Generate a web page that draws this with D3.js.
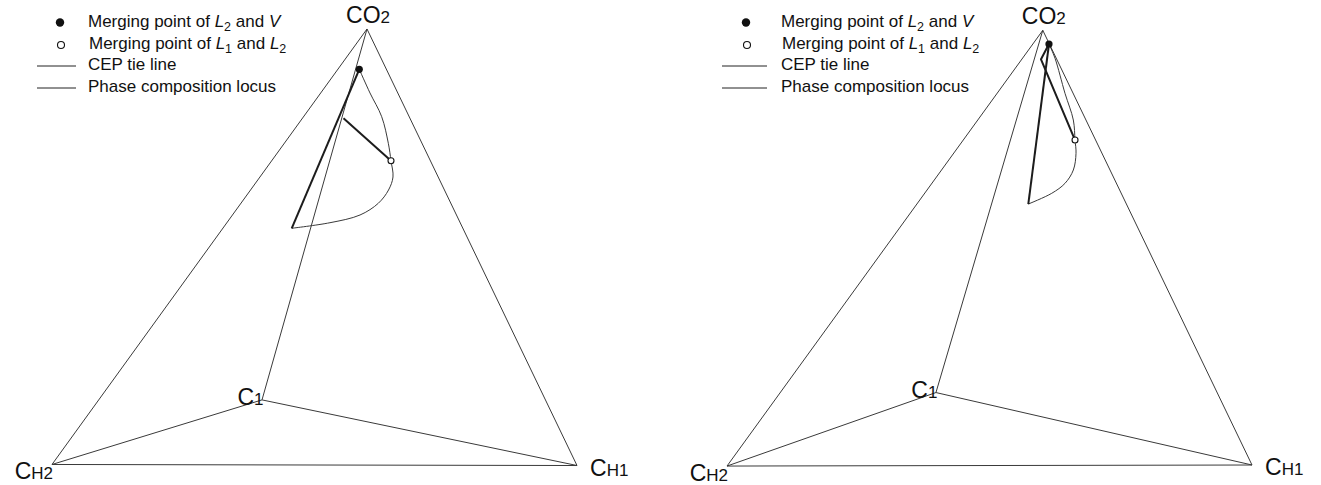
<!DOCTYPE html>
<html>
<head>
<meta charset="utf-8">
<script src="https://cdn.jsdelivr.net/npm/d3@7"></script>
<style>
  body { margin: 0; background: #fff; }
  svg { display: block; }
  text { font-family: "Liberation Sans", Arial, Helvetica, sans-serif; fill: #111; }
</style>
</head>
<body>
<svg id="chart" width="1321" height="485"></svg>
<script>
// Projected quaternary diagrams (CO2 / C1 / CH1 / CH2), diagram units 0–100.

// Vertex labels: large leading part, smaller trailing part
const vertexBig   = ["CO", "C", "C", "C"];
const vertexSmall = ["2", "1", "H2", "H1"];

// Vertex positions per panel (u, v)
const vertexU_left  = [60.0, 40.0, 0, 100];
const vertexV_left  = [83.05, 12.4, 0.1, -0.1];
const vertexU_right = [60.15, 39.8, 0, 100];
const vertexV_right = [82.8, 13.8, -0.2, 0];

// Tetrahedron edges as vertex index pairs
const edges = [[0, 1], [0, 2], [0, 3], [1, 2], [1, 3], [2, 3]];

// Phase composition locus (thin branch) per panel
const locusU_left  = [58.53, 60.57, 62.80, 64.06, 64.57, 64.95, 64.10, 62.15, 58.67, 52.95, 45.66];
const locusV_left  = [75.37, 70.86, 66.34, 61.28, 57.96, 54.86, 52.38, 49.85, 47.62, 46.15, 45.09];
const locusU_right = [61.33, 62.48, 64.38, 65.97, 66.29, 66.48, 65.97, 64.38, 61.85, 57.39];
const locusV_right = [80.19, 77.47, 70.80, 65.71, 61.90, 59.37, 56.19, 53.65, 51.75, 49.71];

// Phase composition locus (heavy branch)
const branchU_left  = [58.53, 45.66];
const branchV_left  = [75.37, 45.09];
const branchU_right = [61.33, 57.39];
const branchV_right = [80.19, 49.71];

// CEP tie lines
const tieU_left  = [55.52, 64.57];
const tieV_left  = [66.04, 57.96];
const tieU_right = [61.33, 59.81, 66.29];
const tieV_right = [80.19, 77.28, 61.90];

// Merging points: [L2 & V (filled), L1 & L2 (open)]
const mergeU_left  = [58.53, 64.57];
const mergeV_left  = [75.37, 57.96];
const mergeU_right = [61.33, 66.29];
const mergeV_right = [80.19, 61.90];

const panelOrigins = [52, 727];

// Legend column anchors per panel: symbol centre, line start, line end, text start
const legendSymbolX = [60, 746];
const legendLineX0  = [37, 722];
const legendLineX1  = [76, 767];
const legendTextX   = [88, 781];

const svg = d3.select("#chart");

const panelData = [
  { vu: vertexU_left, vv: vertexV_left, lu: locusU_left, lv: locusV_left,
    bu: branchU_left, bv: branchV_left, tu: tieU_left, tv: tieV_left,
    mu: mergeU_left, mv: mergeV_left },
  { vu: vertexU_right, vv: vertexV_right, lu: locusU_right, lv: locusV_right,
    bu: branchU_right, bv: branchV_right, tu: tieU_right, tv: tieV_right,
    mu: mergeU_right, mv: mergeV_right }
];

const zip = (us, vs) => us.map((u, i) => [u, vs[i]]);

panelData.forEach((p, pi) => {
  const x0 = panelOrigins[pi];
  const x = d3.scaleLinear().domain([0, 100]).range([x0, x0 + 525]);
  const y = d3.scaleLinear().domain([0, 100]).range([465, 465 - 525]);
  const g = svg.append("g");

  const verts = zip(p.vu, p.vv);

  // edges
  g.selectAll("line.edge").data(edges).join("line")
    .attr("class", "edge")
    .attr("x1", d => x(verts[d[0]][0])).attr("y1", d => y(verts[d[0]][1]))
    .attr("x2", d => x(verts[d[1]][0])).attr("y2", d => y(verts[d[1]][1]))
    .attr("stroke", "#3a3a3a").attr("stroke-width", 1);

  const line = d3.line().x(d => x(d[0])).y(d => y(d[1]));
  const smooth = d3.line().x(d => x(d[0])).y(d => y(d[1])).curve(d3.curveCatmullRom.alpha(0.5));

  g.append("path").datum(zip(p.lu, p.lv)).attr("d", smooth)
    .attr("fill", "none").attr("stroke", "#3a3a3a").attr("stroke-width", 1);
  g.append("path").datum(zip(p.bu, p.bv)).attr("d", line)
    .attr("fill", "none").attr("stroke", "#1c1c1c").attr("stroke-width", 2);
  g.append("path").datum(zip(p.tu, p.tv)).attr("d", line)
    .attr("fill", "none").attr("stroke", "#1c1c1c").attr("stroke-width", 2)
    .attr("stroke-linejoin", "round");

  const merges = zip(p.mu, p.mv);
  g.append("circle").attr("cx", x(merges[0][0])).attr("cy", y(merges[0][1]))
    .attr("r", 3.6).attr("fill", "#111");
  g.append("circle").attr("cx", x(merges[1][0])).attr("cy", y(merges[1][1]))
    .attr("r", 3).attr("fill", "#fff").attr("stroke", "#111").attr("stroke-width", 1.1);

  // vertex labels: offsets from each vertex (dx, dy) and anchor
  const labelPlace = [
    { dx: 1, dy: -6, anchor: "middle" },
    { dx: 1.5, dy: 5, anchor: "end" },
    { dx: 1, dy: 15, anchor: "end" },
    { dx: 13, dy: 10, anchor: "start" }
  ];
  verts.forEach((v, i) => {
    const lp = labelPlace[i];
    const t = g.append("text")
      .attr("x", x(v[0]) + lp.dx).attr("y", y(v[1]) + lp.dy)
      .attr("text-anchor", lp.anchor);
    t.append("tspan").attr("font-size", 23).text(vertexBig[i]);
    t.append("tspan").attr("font-size", 17).text(vertexSmall[i]);
  });

  // legend
  const lg = g.append("g");
  const sx = legendSymbolX[pi];
  lg.append("circle").attr("cx", sx).attr("cy", 22.5).attr("r", 4.2).attr("fill", "#111");
  lg.append("circle").attr("cx", sx + 1).attr("cy", 45).attr("r", 3.5)
    .attr("fill", "#fff").attr("stroke", "#111").attr("stroke-width", 1.1);
  [66, 88].forEach(yy => {
    lg.append("line").attr("x1", legendLineX0[pi]).attr("x2", legendLineX1[pi])
      .attr("y1", yy).attr("y2", yy)
      .attr("stroke", "#222").attr("stroke-width", 1);
  });

  const fs = 17, sub = 12.5;
  const tx = legendTextX[pi];
  const addItem = (yy, dx, parts) => {
    const t = lg.append("text").attr("x", tx + dx).attr("y", yy).attr("font-size", fs);
    parts.forEach(pt => {
      const s = t.append("tspan").text(pt.t);
      if (pt.i) s.attr("font-style", "italic");
      if (pt.sub) s.attr("font-size", sub).attr("dy", 4);
      if (pt.up) s.attr("dy", -4);
    });
  };
  addItem(27, 0, [{ t: "Merging point of " }, { t: "L", i: 1 }, { t: "2", sub: 1 },
                  { t: " and ", up: 1 }, { t: "V", i: 1 }]);
  addItem(49, 1, [{ t: "Merging point of " }, { t: "L", i: 1 }, { t: "1", sub: 1 },
                  { t: " and ", up: 1 }, { t: "L", i: 1 }, { t: "2", sub: 1 }]);
  addItem(70, 0, [{ t: "CEP tie line" }]);
  addItem(92, 0, [{ t: "Phase composition locus" }]);
});
</script>
</body>
</html>
